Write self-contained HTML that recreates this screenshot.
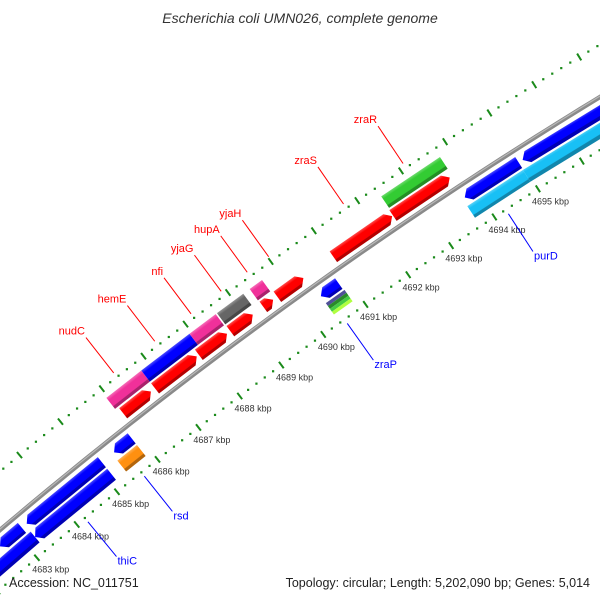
<!DOCTYPE html>
<html><head><meta charset="utf-8"><style>
html,body{margin:0;padding:0;background:#fff;width:600px;height:600px;overflow:hidden}
svg{display:block;overflow:hidden}
text{font-family:"Liberation Sans",sans-serif}
</style></head><body>
<svg id="map" width="600" height="600" viewBox="0 0 600 600" xmlns="http://www.w3.org/2000/svg">
<defs id="defs"><clipPath id="frame"><rect x="0" y="0" width="600" height="600"/></clipPath></defs>
<text x="300" y="23" text-anchor="middle" font-size="14" font-style="italic" fill="#333">Escherichia coli UMN026, complete genome</text>
<g id="layer" clip-path="url(#frame)"></g>
<text x="9" y="587" font-size="12.5" fill="#222">Accession: NC_011751</text>
<text x="590" y="587" font-size="12.5" fill="#222" text-anchor="end">Topology: circular; Length: 5,202,090 bp; Genes: 5,014</text>
</svg>
<script>
// ---- data (kbp) ----
const geneStart = [4686.03,4686.8,4687.85,4688.6,4689.38,4689.71,4691.02,4692.4,
                   4685.96,4686.8,4687.95,4688.6,4689.37,4692.42,
                   4682.6,4683.27,4685.43,4690.39,4693.73,4695.05,
                   4680.5,4683.23,4685.38,4693.68,4694.95];
const geneEnd   = [4686.7,4687.8,4688.52,4689.13,4689.61,4690.32,4692.38,4693.7,
                   4686.8,4687.95,4688.57,4689.22,4689.66,4693.76,
                   4683.15,4685.13,4685.86,4690.81,4694.96,4698.5,
                   4683.23,4685.13,4685.86,4694.95,4698.5];
const geneStrand= [1,1,1,1,1,1,1,1, 1,1,1,1,1,1, -1,-1,-1,-1,-1,-1, -1,-1,-1,-1,-1];
const geneRow   = [1,1,1,1,1,1,1,1, 2,2,2,2,2,2, 1,1,1,1,1,1, 2,2,2,2,2];
const geneArrow = [1,1,1,1,1,1,1,1, 0,0,0,0,0,0, 1,1,1,1,1,1, 1,1,0,0,0];
const geneColor = ["#ff0000","#ff0000","#ff0000","#ff0000","#ff0000","#ff0000","#ff0000","#ff0000",
                   "#f0309a","#0000ff","#f0309a","#666666","#f0309a","#33cc33",
                   "#0000ff","#0000ff","#0000ff","#0000ff","#0000ff","#0000ff",
                   "#0000ff","#0000ff","#ff9010","#18c0f5","#18c0f5"];
const stackStart = [4690.39];
const stackEnd = [4690.83];
const stackColors = ["#505098","#2a8a2a","#44cc44","#b0ff40"];
const labelNames = ["nudC","hemE","nfi","yjaG","hupA","yjaH","zraS","zraR","thiC","rsd","zraP","purD"];
const labelPos   = [4686.36,4687.34,4688.2,4688.91,4689.52,4690.02,4691.75,4693.11,4684.2,4685.6,4690.5,4694.26];
const labelStrand= [1,1,1,1,1,1,1,1,-1,-1,-1,-1];
const tickStartKbp = 4678, tickEndKbp = 4700, maxTickLabelKbp = 4695;

// ---- geometry ----
function circ(a,b,c){
  const d=2*(a[0]*(b[1]-c[1])+b[0]*(c[1]-a[1])+c[0]*(a[1]-b[1]));
  const ux=((a[0]**2+a[1]**2)*(b[1]-c[1])+(b[0]**2+b[1]**2)*(c[1]-a[1])+(c[0]**2+c[1]**2)*(a[1]-b[1]))/d;
  const uy=((a[0]**2+a[1]**2)*(c[0]-b[0])+(b[0]**2+b[1]**2)*(a[0]-c[0])+(c[0]**2+c[1]**2)*(b[0]-a[0]))/d;
  return [ux,uy,Math.hypot(a[0]-ux,a[1]-uy)];
}
const C = circ([0,530],[290,303],[600,97]);
const cx=C[0], cy=C[1], R=C[2];
const aRef1 = Math.atan2(493-cy,118-cx), aRef2 = Math.atan2(192-cy,540-cx);
function ang(k){return aRef1+(k-4685)*(aRef2-aRef1)/10;}
function pt(k,off){const a=ang(k);return [cx+(R+off)*Math.cos(a), cy+(R+off)*Math.sin(a)];}
function P(p){return p[0].toFixed(2)+","+p[1].toFixed(2);}
const NS="http://www.w3.org/2000/svg";
const layer=document.getElementById("layer"), defs=document.getElementById("defs");
function mk(tag,attrs,parent){const e=document.createElementNS(NS,tag);for(const k in attrs)e.setAttribute(k,attrs[k]);(parent||layer).appendChild(e);return e;}

// backbone drawn as polyline over visible range
function arcPath(off){let d="";for(let k=4678;k<=4700;k+=0.25){const p=pt(k,off);d+=(d?"L":"M")+P(p);}return d;}
let bb = mk("path",{d:arcPath(0),fill:"none",stroke:"#8a8a8a","stroke-width":4.5});


let bb2 = mk("path",{d:arcPath(0.8),fill:"none",stroke:"#b8b8b8","stroke-width":1.2});



// ticks
const ticks = mk("g",{});


for(let i=0;i<=(tickEndKbp-tickStartKbp)*5;i++){
  const k=tickStartKbp+i*0.2;
  const major=(i%5===0);
  for(const base of [45,-45]){
    let e;
    if(major){
      const p1=pt(k,base+4), p2=pt(k,base-4);
      e=mk("line",{x1:p1[0],y1:p1[1],x2:p2[0],y2:p2[1],stroke:"#1a8a1a","stroke-width":2},ticks);
      
    } else {
      const p=pt(k,base);
      e=mk("rect",{x:p[0]-1,y:p[1]-1,width:2.2,height:2.2,fill:"#1a8a1a"},ticks);
      
    }
    
  }
  if(major && Math.round(k)<=maxTickLabelKbp){
    const p=pt(k,-58);
    const t=mk("text",{x:p[0]-13,y:p[1]+5,"font-size":9,fill:"#333"},ticks);
    t.textContent=Math.round(k)+" kbp";
    
    
  }
}

// genes
function shade(hex,f){
  const n=parseInt(hex.slice(1),16);let r=n>>16,g=(n>>8)&255,b=n&255;
  if(f>0){r+= (255-r)*f;g+=(255-g)*f;b+=(255-b)*f;} else {r*=1+f;g*=1+f;b*=1+f;}
  return "rgb("+Math.round(r)+","+Math.round(g)+","+Math.round(b)+")";
}
const AH=0.12;
function band(a,b,strand,row,arrow){
  const s=strand;
  const r1 = s*(row===1?6:21), r2 = s*(row===1?19:35);
  const lo=Math.min(r1,r2), hi=Math.max(r1,r2), mid=(lo+hi)/2;
  let pts;
  if(arrow && s===1){
    pts=[pt(a,lo),pt(b-AH,lo),pt(b,mid),pt(b-AH,hi),pt(a,hi)];
  } else if(arrow && s===-1){
    pts=[pt(a,mid),pt(a+AH,lo),pt(b,lo),pt(b,hi),pt(a+AH,hi)];
  } else {
    pts=[pt(a,lo),pt(b,lo),pt(b,hi),pt(a,hi)];
  }
  return {pts:pts,lo:lo,hi:hi};
}
const genes=mk("g",{});


for(let i=0;i<geneStart.length;i++){
  const bd=band(geneStart[i],geneEnd[i],geneStrand[i],geneRow[i],geneArrow[i]);
  const m=(geneStart[i]+geneEnd[i])/2;
  const g1=pt(m,bd.hi), g2=pt(m,bd.lo);
  const gid="gr"+i;
  const lg=mk("linearGradient",{id:gid,gradientUnits:"userSpaceOnUse",x1:g1[0],y1:g1[1],x2:g2[0],y2:g2[1]},defs);
  mk("stop",{offset:"0"},lg).setAttribute("stop-color",shade(geneColor[i],0.3));
  mk("stop",{offset:"0.25"},lg).setAttribute("stop-color",geneColor[i]);
  mk("stop",{offset:"0.75"},lg).setAttribute("stop-color",geneColor[i]);
  mk("stop",{offset:"0.8"},lg).setAttribute("stop-color",shade(geneColor[i],-0.3));
  mk("stop",{offset:"1"},lg).setAttribute("stop-color",shade(geneColor[i],-0.3));
  const e=mk("polygon",{points:bd.pts.map(P).join(" "),fill:"url(#"+gid+")"},genes);
  
  
}
// stacked feature (zraP)
for(let i=0;i<stackStart.length;i++){
  const n=stackColors.length;
  for(let j=0;j<n;j++){
    const r1=-21-j*14/n, r2=-21-(j+1)*14/n;
    const pts=[pt(stackStart[i],r1),pt(stackEnd[i],r1),pt(stackEnd[i],r2),pt(stackStart[i],r2)];
    const e=mk("polygon",{points:pts.map(P).join(" "),fill:stackColors[j]},genes);
    
    
  }
}
// labels
const labs=mk("g",{});


for(let i=0;i<labelNames.length;i++){
  const s=labelStrand[i], col = s===1?"#ff0000":"#0000ff";
  const p1=pt(labelPos[i],s*50), p2=pt(labelPos[i],s*95);
  const l=mk("line",{x1:p1[0],y1:p1[1],x2:p2[0],y2:p2[1],stroke:col,"stroke-width":1},labs);
  
  
  const t=mk("text",{"font-size":11,fill:col},labs);
  if(s===1){t.setAttribute("x",p2[0]-1);t.setAttribute("y",p2[1]-3);t.setAttribute("text-anchor","end");}
  else {t.setAttribute("x",p2[0]+1);t.setAttribute("y",p2[1]+8);}
  t.textContent=labelNames[i];
  
  
}
</script>
</body></html>
